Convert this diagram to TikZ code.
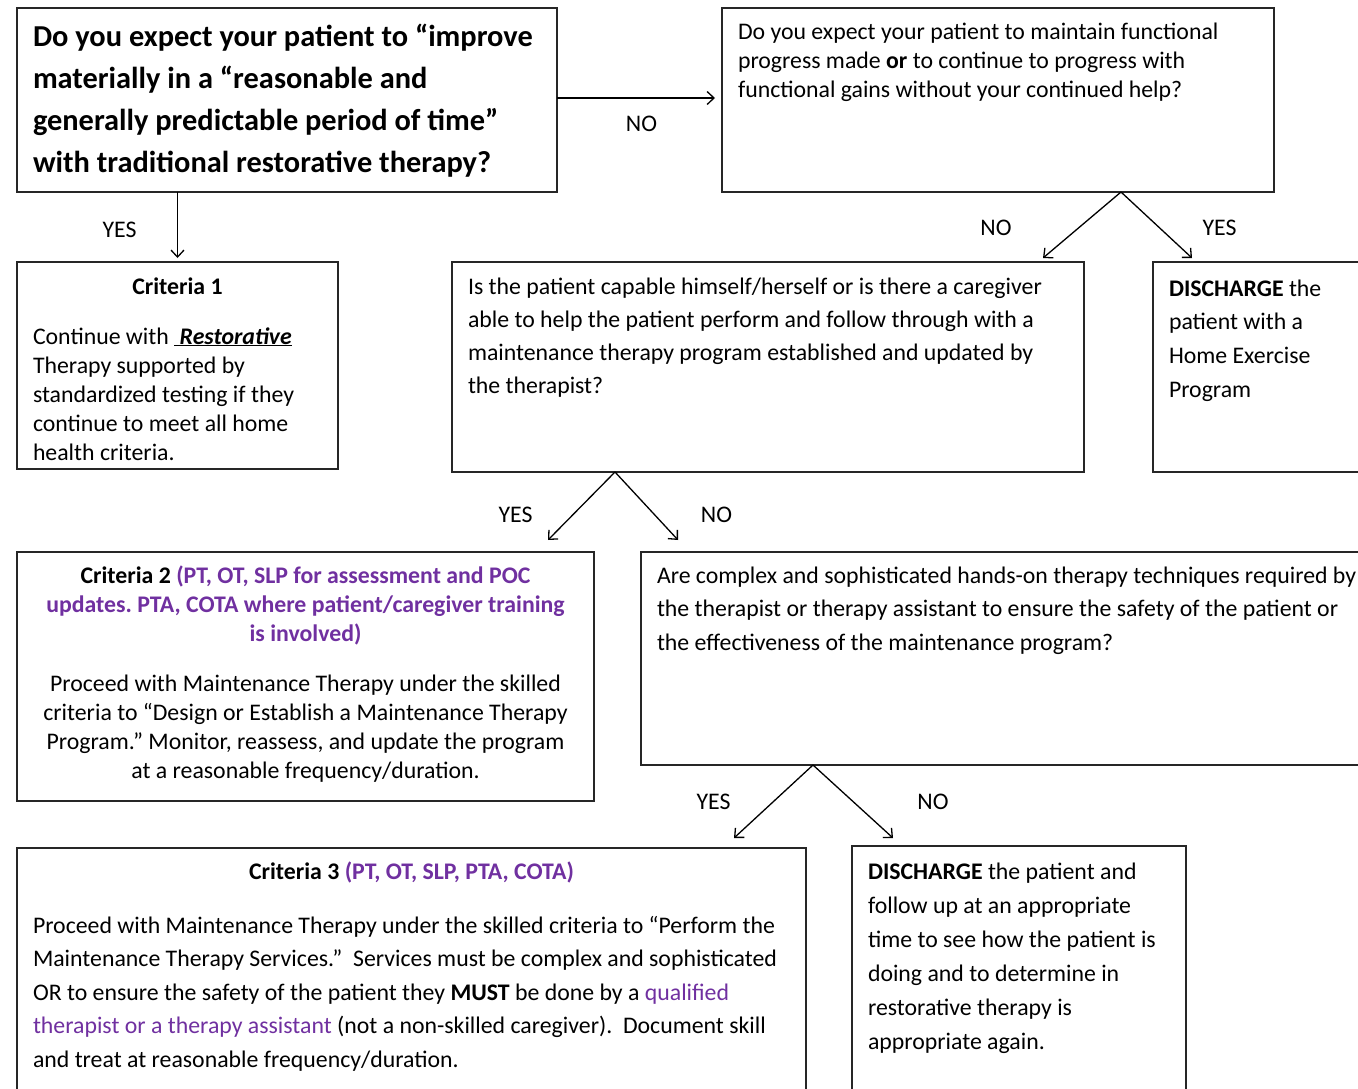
\documentclass[tikz,border=0pt]{standalone}
\usepackage{fontspec}
\setmainfont{Carlito}
\usetikzlibrary{positioning,arrows.meta}
\definecolor{rolepurple}{RGB}{112,48,160}
\frenchspacing
\newcommand{\fsz}[2]{\fontsize{#1}{#2}\selectfont}
% top aligned box text: width, height, first baseline drop, text
\newcommand{\boxtext}[4]{\parbox[t][#2][t]{#1}{\rule{0pt}{#3}\ignorespaces#4}}

\begin{document}
\begin{tikzpicture}
[x=1pt,y=-1pt,
box/.style={draw=black!85, line width=1.6pt, anchor=north west, outer sep=0pt,
  inner xsep=16pt, inner ysep=4pt, align=left},
arr/.style={line width=1.3pt, -{Straight Barb[length=7pt,width=13pt,line width=1.3pt]}},
lbl/.style={font=\fsz{23.8}{26}}]

\useasboundingbox (0,0) rectangle (1358,1088);
\clip (0,0) rectangle (1358,1088);

% first row
\node[box] (qA) at (17,8) {\boxtext{508pt}{176pt}{34pt}{\fsz{30.4}{42.3}\bfseries
Do you expect your patient to “improve\\
materially in a “reasonable and\\
generally predictable period of time”\\
with traditional restorative therapy?}};
\node[box] (qB) at (722,8) {\boxtext{520pt}{176pt}{27pt}{\fsz{23.8}{29}%
Do you expect your patient to maintain functional\\
progress made \textbf{or} to continue to progress with\\
functional gains without your continued help?}};

% second row
\node[box] (crit1) at (17,262) {\boxtext{289pt}{199pt}{28pt}{\fsz{23.8}{29}%
{\centering\textbf{Criteria 1}\par}\vspace{21pt}
Continue with \underline{\textbf{\textit{\ Restorative}}}\\
Therapy supported by\\
standardized testing if they\\
continue to meet all home\\
health criteria.}};
\node[box] (qC) at (452,262) {\boxtext{600pt}{202pt}{28pt}{\fsz{23.8}{33.3}%
Is the patient capable himself/herself or is there a caregiver\\
able to help the patient perform and follow through with a\\
maintenance therapy program established and updated by\\
the therapist?}};
\node[box] (hep) at (1153,262) {\boxtext{208pt}{202pt}{30pt}{\fsz{23.8}{33.7}%
\textbf{DISCHARGE} the\\
patient with a\\
Home Exercise\\
Program}};

% third row
\node[box] (crit2) at (17,552) {\boxtext{545pt}{241pt}{27pt}{\fsz{23.8}{29}\centering
\textbf{Criteria 2} \textcolor{rolepurple}{\textbf{(PT, OT, SLP for assessment and POC}}\\
\textcolor{rolepurple}{\textbf{updates. PTA, COTA where patient/caregiver training}}\\
\textcolor{rolepurple}{\textbf{is involved)}}\par\vspace{21pt}
Proceed with Maintenance Therapy under the skilled\\
criteria to “Design or Establish a Maintenance Therapy\\
Program.” Monitor, reassess, and update the program\\
at a reasonable frequency/duration.}};
\node[box] (qD) at (641,552) {\boxtext{728pt}{205pt}{27pt}{\fsz{23.8}{33.5}%
Are complex and sophisticated hands-on therapy techniques required by\\
the therapist or therapy assistant to ensure the safety of the patient or\\
the effectiveness of the maintenance program?}};

% fourth row
\node[box] (crit3) at (17,848) {\boxtext{757pt}{252pt}{27pt}{\fsz{23.8}{33.5}%
{\centering\textbf{Criteria 3} \textcolor{rolepurple}{\textbf{(PT, OT, SLP, PTA, COTA)}}\par}\vspace{20.5pt}
Proceed with Maintenance Therapy under the skilled criteria to “Perform the\\
Maintenance Therapy Services.”\ \ Services must be complex and sophisticated\\
OR to ensure the safety of the patient they \textbf{MUST} be done by a \textcolor{rolepurple}{qualified}\\
\textcolor{rolepurple}{therapist or a therapy assistant} (not a non-skilled caregiver).\ \ Document skill\\
and treat at reasonable frequency/duration.}};
\node[box] (dis) at (852,846) {\boxtext{302pt}{252pt}{29pt}{\fsz{23.8}{34}%
\textbf{DISCHARGE} the patient and\\
follow up at an appropriate\\
time to see how the patient is\\
doing and to determine in\\
restorative therapy is\\
appropriate again.}};

% fork points and arrow ends
\coordinate (forkB) at ([xshift=399pt]qB.south west);
\coordinate (endBno) at ([xshift=-41pt,yshift=4pt]qC.north east);
\coordinate (endByes) at ([xshift=39pt,yshift=4pt]hep.north west);
\coordinate (forkC) at ([xshift=163pt]qC.south west);
\coordinate (endCyes) at ([xshift=-46pt,yshift=12pt]crit2.north east);
\coordinate (endCno) at ([xshift=37pt,yshift=12pt]qD.north west);
\coordinate (forkD) at ([xshift=172pt]qD.south west);
\coordinate (endDyes) at ([xshift=-72pt,yshift=10pt]crit3.north east);
\coordinate (endDno) at ([xshift=41pt,yshift=8pt]dis.north west);

% arrows
\draw[arr,shorten >=7pt] ([yshift=2pt]qA.east) -- ([yshift=2pt]qB.west)
  node[lbl,midway,xshift=2pt,yshift=-26pt] (noA) {NO};
\draw[arr,shorten >=4pt] (crit1.north |- qA.south) -- (crit1.north)
  node[lbl,midway,xshift=-58pt,yshift=-3pt] (yesA) {YES};
\draw[arr] (forkB) -- (endBno) node[lbl,midway,xshift=-86pt,yshift=-3pt] (noB) {NO};
\draw[arr] (forkB) -- (endByes) node[lbl,midway,xshift=63pt,yshift=-3pt] (yesB) {YES};
\draw[arr] (forkC) -- (endCyes) node[lbl,midway,xshift=-66pt,yshift=-9pt] (yesC) {YES};
\draw[arr] (forkC) -- (endCno) node[lbl,midway,xshift=70pt,yshift=-9pt] (noC) {NO};
\draw[arr] (forkD) -- (endDyes) node[lbl,midway,xshift=-60pt,yshift=0pt] (yesD) {YES};
\draw[arr] (forkD) -- (endDno) node[lbl,midway,xshift=80pt,yshift=0pt] (noD) {NO};
\end{tikzpicture}
\end{document}
